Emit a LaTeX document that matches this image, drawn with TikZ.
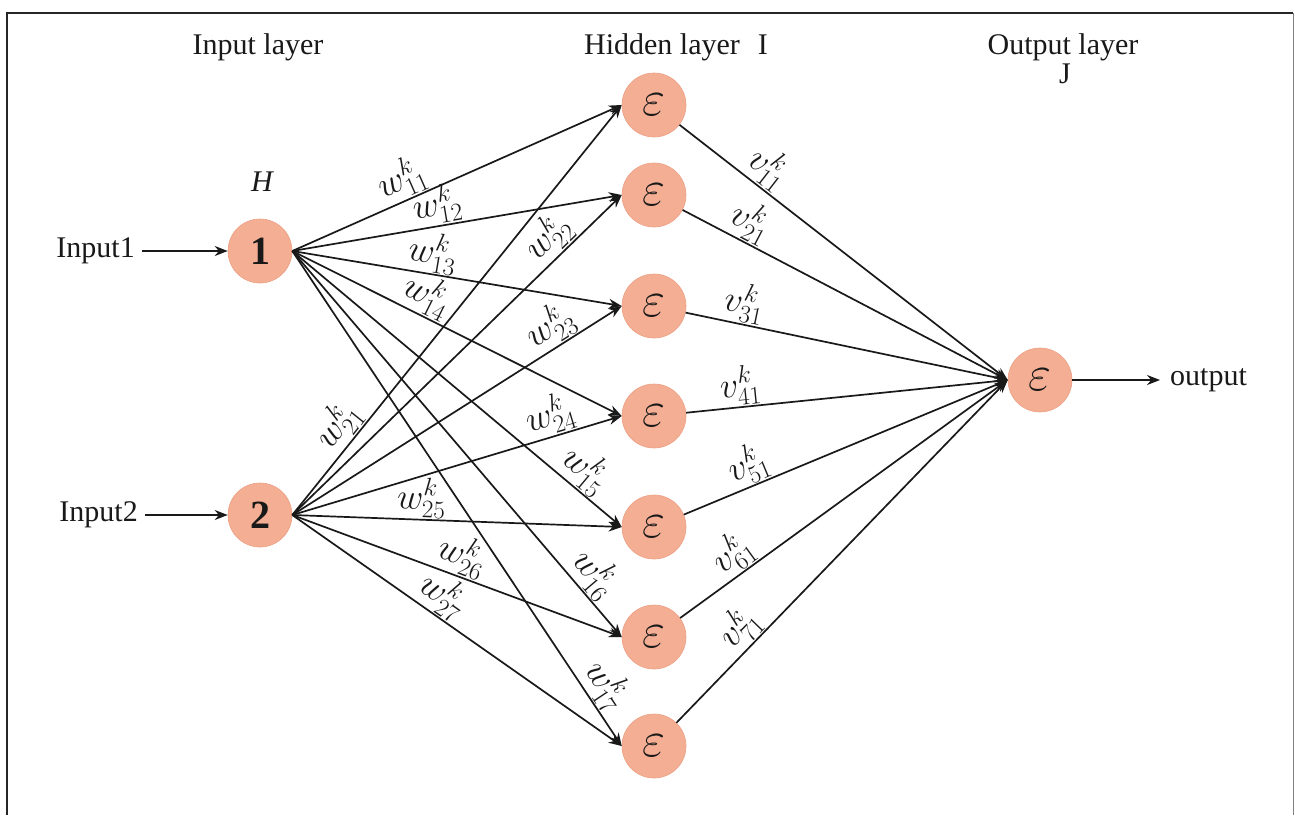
\RequirePackage{fix-cm}
\documentclass[tikz,border=0pt]{standalone}
\usepackage{fontspec}
\setmainfont{Liberation Serif}
\usetikzlibrary{arrows.meta}
\definecolor{nodefill}{RGB}{244,174,148}
\definecolor{nodeedge}{RGB}{236,160,132}
\definecolor{ink}{RGB}{25,25,25}
\begin{document}
\begin{tikzpicture}[x=1pt,y=-1pt,
  neuron/.style={circle, minimum size=64pt, inner sep=0pt, fill=nodefill, draw=nodeedge, line width=0.6pt, text=ink},
  txt/.style={font=\fontsize{30}{36}\selectfont, text=ink, inner sep=0pt},
  conn/.style={draw=ink, line width=1.7pt, -{Stealth[length=13pt,width=10pt]}},
  wlab/.style={sloped, above, inner sep=1pt, font=\fontsize{36}{42}\selectfont, text=ink},
  eps/.style={font=\fontsize{50}{56}\selectfont}
]
\useasboundingbox (0,0) rectangle (1295,815);
\fill[white] (0,0) rectangle (1295,815);

% frame
\draw[line width=2.5pt, gray!30!black] (7,815) -- (7,13) -- (1293,13);
\draw[line width=1pt, gray] (1293,13) -- (1293,815);

% layer titles
\node[txt] (tin) at (258,47) {Input layer};
\node[txt] (thid) at (676,47) {Hidden layer\hspace{18pt}I};
\node[txt] (tout) at (1063,47) {Output layer};
\node[txt] (tj) at (1065,74) {J};
\node[txt, font=\fontsize{30}{36}\selectfont\itshape] (th) at (262,182) {H};

% input layer
\node[neuron, font=\fontsize{40}{48}\selectfont\bfseries] (n1) at (260,251) {1};
\node[neuron, font=\fontsize{40}{48}\selectfont\bfseries] (n2) at (260,515) {2};
\node[txt, anchor=east, inner xsep=7pt] (in1) at (142,251) {Input1};
\node[txt, anchor=east, inner xsep=7pt] (in2) at (145,515) {Input2};
\draw[conn] (in1.east) -- (n1.west);
\draw[conn] (in2.east) -- (n2.west);

% hidden layer
\foreach \i/\y in {1/105,2/195,3/306,4/416,5/527,6/637,7/746}
  \node[neuron, eps] (h\i) at (654,\y) {$\varepsilon$};

% output layer
\node[neuron, eps] (out) at (1040,380) {$\varepsilon$};
\node[txt, anchor=west, inner xsep=10pt] (otxt) at (1160,380) {output};
\draw[conn] (out.east) -- (otxt.west);

% weights from input 1
\draw[conn] (n1.east) -- node[wlab, pos=0.357] {$w^{k}_{11}$} (h1.west);
\draw[conn] (n1.east) -- node[wlab, pos=0.45] {$w^{k}_{12}$} (h2.west);
\draw[conn] (n1.east) -- node[wlab, pos=0.416] {$w^{k}_{13}$} (h3.west);
\draw[conn] (n1.east) -- node[wlab, pos=0.382] {$w^{k}_{14}$} (h4.west);
\draw[conn] (n1.east) -- node[wlab, pos=0.85] {$w^{k}_{15}$} (h5.west);
\draw[conn] (n1.east) -- node[wlab, pos=0.87] {$w^{k}_{16}$} (h6.west);
\draw[conn] (n1.east) -- node[wlab, pos=0.9] {$w^{k}_{17}$} (h7.west);

% weights from input 2
\draw[conn] (n2.east) -- node[wlab, pos=0.187] {$w^{k}_{21}$} (h1.west);
\draw[conn] (n2.east) -- node[wlab, pos=0.82] {$w^{k}_{22}$} (h2.west);
\draw[conn] (n2.east) -- node[wlab, pos=0.816] {$w^{k}_{23}$} (h3.west);
\draw[conn] (n2.east) -- node[wlab, pos=0.80] {$w^{k}_{24}$} (h4.west);
\draw[conn] (n2.east) -- node[wlab, pos=0.39] {$w^{k}_{25}$} (h5.west);
\draw[conn] (n2.east) -- node[wlab, pos=0.494] {$w^{k}_{26}$} (h6.west);
\draw[conn] (n2.east) -- node[wlab, pos=0.421] {$w^{k}_{27}$} (h7.west);

% weights to the output
\draw[conn] (h1) -- node[wlab, pos=0.233] {$v^{k}_{11}$} (out.west);
\draw[conn] (h2) -- node[wlab, pos=0.18] {$v^{k}_{21}$} (out.west);
\draw[conn] (h3) -- node[wlab, pos=0.17] {$v^{k}_{31}$} (out.west);
\draw[conn] (h4) -- node[wlab, pos=0.175] {$v^{k}_{41}$} (out.west);
\draw[conn] (h5) -- node[wlab, pos=0.223] {$v^{k}_{51}$} (out.west);
\draw[conn] (h6) -- node[wlab, pos=0.198] {$v^{k}_{61}$} (out.west);
\draw[conn] (h7) -- node[wlab, pos=0.235] {$v^{k}_{71}$} (out.west);
\end{tikzpicture}
\end{document}
